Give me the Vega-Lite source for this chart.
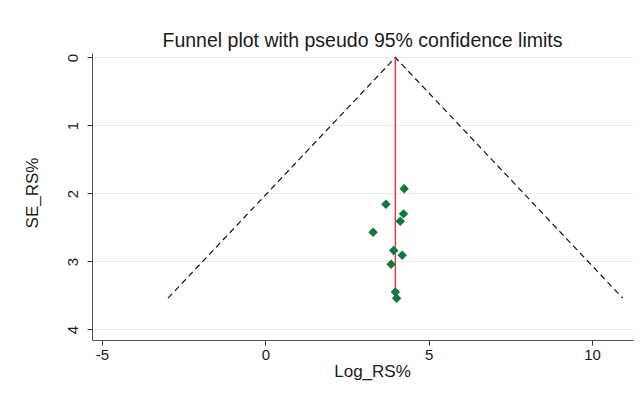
{
  "$schema": "https://vega.github.io/schema/vega-lite/v6.json",
  "width": 541,
  "height": 287,
  "autosize": {"type": "none"},
  "padding": {"left": 92, "top": 53, "right": 10, "bottom": 58},
  "background": "white",
  "title": {
    "text": "Funnel plot with pseudo 95% confidence limits",
    "font": "Liberation Sans",
    "fontSize": 19.5,
    "fontWeight": "normal",
    "color": "#1a1a1a",
    "anchor": "middle",
    "offset": 2
  },
  "config": {
    "view": {"stroke": null},
    "axis": {
      "labelFont": "Liberation Sans",
      "titleFont": "Liberation Sans",
      "labelColor": "#1a1a1a",
      "titleColor": "#1a1a1a",
      "titleFontWeight": "normal",
      "domainColor": "#555555",
      "tickColor": "#333333",
      "tickSize": 5
    }
  },
  "datasets": {
    "studies": [
      {"log_rs": 4.25, "se_rs": 1.93},
      {"log_rs": 3.69, "se_rs": 2.16},
      {"log_rs": 4.23, "se_rs": 2.30},
      {"log_rs": 4.13, "se_rs": 2.41},
      {"log_rs": 3.30, "se_rs": 2.57},
      {"log_rs": 3.93, "se_rs": 2.84},
      {"log_rs": 4.19, "se_rs": 2.91},
      {"log_rs": 3.85, "se_rs": 3.04},
      {"log_rs": 3.98, "se_rs": 3.45},
      {"log_rs": 4.02, "se_rs": 3.54}
    ],
    "funnel": [
      {"i": 1, "x": -2.98, "se": 3.54},
      {"i": 2, "x": 3.98, "se": 0},
      {"i": 3, "x": 10.94, "se": 3.54}
    ],
    "pooled": [
      {"x": 3.98, "se": 0},
      {"x": 3.98, "se": 3.54}
    ]
  },
  "layer": [
    {
      "data": {"name": "funnel"},
      "mark": {"type": "line", "color": "#111111", "strokeWidth": 1.2, "strokeDash": [6, 4]},
      "encoding": {
        "x": {
          "field": "x", "type": "quantitative",
          "scale": {"domain": [-5.306, 11.255], "nice": false, "zero": false},
          "axis": {
            "values": [-5, 0, 5, 10],
            "labelExpr": "'' + datum.value",
            "grid": false,
            "title": "Log_RS%",
            "labelFontSize": 15,
            "titleFontSize": 17,
            "labelPadding": 2,
            "titlePadding": 1,
            "titleX": 280
          }
        },
        "y": {
          "field": "se", "type": "quantitative",
          "scale": {"domain": [-0.066, 4.155], "nice": false, "zero": false, "reverse": true},
          "axis": {
            "values": [0, 1, 2, 3, 4],
            "format": "d",
            "grid": true,
            "gridColor": "#e2ecee",
            "gridWidth": 1,
            "title": "SE_RS%",
            "labelFontSize": 15,
            "titleFontSize": 17,
            "labelAngle": -90,
            "labelPadding": 7,
            "titlePadding": 24,
            "titleY": 139.5
          }
        },
        "order": {"field": "i"}
      }
    },
    {
      "data": {"name": "pooled"},
      "mark": {"type": "line", "color": "#ec3b45", "strokeWidth": 1.5},
      "encoding": {
        "x": {"field": "x", "type": "quantitative"},
        "y": {"field": "se", "type": "quantitative"}
      }
    },
    {
      "data": {"name": "studies"},
      "mark": {"type": "point", "shape": "diamond", "filled": true, "color": "#0d7a3c", "size": 90, "opacity": 1},
      "encoding": {
        "x": {"field": "log_rs", "type": "quantitative"},
        "y": {"field": "se_rs", "type": "quantitative"}
      }
    }
  ]
}
